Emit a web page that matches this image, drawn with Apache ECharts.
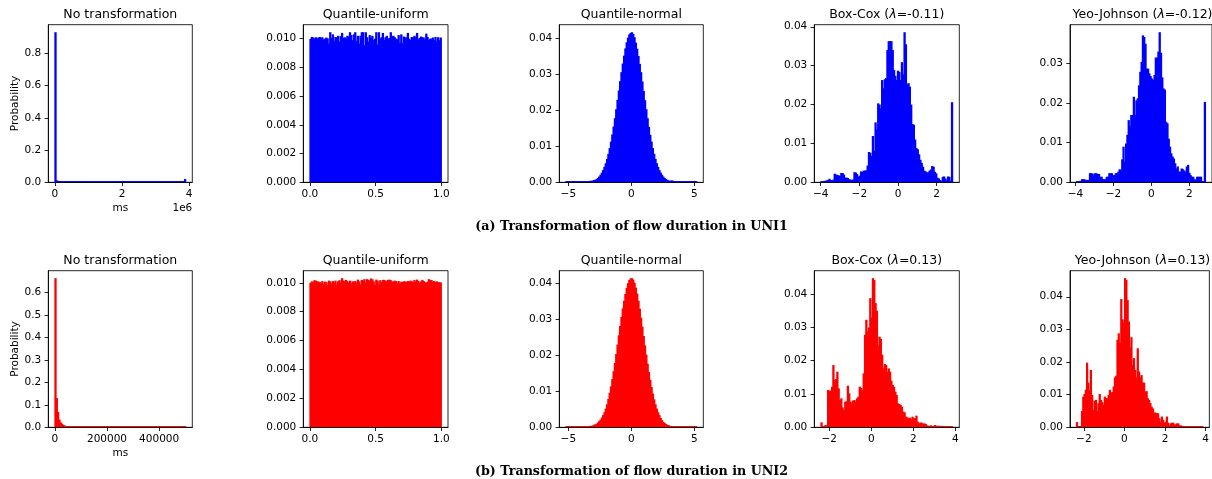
<!DOCTYPE html>
<html><head><meta charset="utf-8">
<script src="https://cdn.jsdelivr.net/npm/echarts@6/dist/echarts.min.js"></script>
<style>html,body{margin:0;padding:0;background:#fff}#c{width:1212px;height:479px}</style>
</head><body><div id="c"></div><script>
// ---------------- DATA ----------------
const COLOR_UNI1 = '#0000ff';
const COLOR_UNI2 = '#ff0000';
const titlesUni1 = ['No transformation', 'Quantile-uniform', 'Quantile-normal', 'Box-Cox ({i|λ}=-0.11)', 'Yeo-Johnson ({i|λ}=-0.12)'];
const titlesUni2 = ['No transformation', 'Quantile-uniform', 'Quantile-normal', 'Box-Cox ({i|λ}=0.13)', 'Yeo-Johnson ({i|λ}=0.13)'];
const captionUni1 = '(a) Transformation of flow duration in UNI1';
const captionUni2 = '(b) Transformation of flow duration in UNI2';

// bin ranges [first edge, last edge]; each histogram has 100 equal bins
const noTransUni1Range = [0, 3900000];
const noTransUni2Range = [0, 502000];
const uniformRange = [0, 1];
const normalRange = [-5.199, 5.199];
const boxCoxUni1Range = [-3.99, 2.83];
const yeoJohnsonUni1Range = [-3.95, 2.85];
const boxCoxUni2Range = [-2.40, 3.87];
const yeoJohnsonUni2Range = [-2.37, 3.87];

const noTransUni1 = [
 0.932,0.012,0.009,0.006,0.004,0.003,0.002,0.0015,0.0012,0.001,
 0.0008,0.0007,0.0006,0.0005,0.0005,0.0004,0.0004,0.0003,0.0003,0.0003,
 0.0003,0.0002,0.0002,0.0002,0.0002,0.0002,0.0002,0.0002,0.0002,0.0002,
 0.0002,0.0002,0.0001,0.0001,0.0002,0.0001,0.0001,0.0001,0.0001,0.0001,
 0.0001,0.0001,0.0001,0.0001,0.0001,0.0001,0.0001,0.0001,0.0001,0.0001,
 0.0001,0.0001,0.0001,0.0001,0.0001,0.0001,0.0001,0.0001,0.0001,0.0001,
 0.0001,0.0001,0.0001,0.0001,0.0001,0.0001,0.0001,0.0001,0.0001,0.0001,
 0.0001,0.0001,0.0001,0.0001,0.0001,0.0001,0.0001,0.0001,0.0001,0.0001,
 0.0001,0.0001,0.0001,0.0001,0.0001,0.0001,0.0001,0.0001,0.0001,0.0001,
 0.0001,0.0001,0.0001,0.0001,0.0001,0.0001,0.0001,0.0002,0.0003,0.020];
const noTransUni2 = [
 0.663,0.130,0.068,0.034,0.022,0.016,0.011,0.008,0.006,0.005,
 0.004,0.0035,0.003,0.0025,0.002,0.0018,0.0015,0.0013,0.0012,0.001,
 0.0009,0.0008,0.0007,0.0007,0.0006,0.0006,0.0005,0.0005,0.0004,0.0004,
 0.0004,0.0003,0.0003,0.0003,0.0003,0.0003,0.0003,0.0002,0.0002,0.0002,
 0.0002,0.0002,0.0002,0.0002,0.0002,0.0002,0.0002,0.0002,0.0002,0.0002,
 0.0002,0.0002,0.0002,0.0002,0.0002,0.0002,0.0001,0.0001,0.0001,0.0001,
 0.0001,0.0001,0.0001,0.0001,0.0001,0.0001,0.0001,0.0001,0.0001,0.0001,
 0.0001,0.0001,0.0001,0.0001,0.0001,0.0001,0.0001,0.0001,0.0001,0.0001,
 0.0001,0.0001,0.0001,0.0001,0.0001,0.0001,0.0001,0.0001,0.0001,0.0001,
 0.0001,0.0001,0.0001,0.0001,0.0001,0.0001,0.0001,0.0001,0.0001,0.0001];
const uniformUni1 = [
 0.00998,0.01012,0.01008,0.01002,0.01010,0.01000,0.01008,0.01012,0.01005,0.01010,
 0.00995,0.01000,0.01008,0.01002,0.00965,0.01045,0.01005,0.01030,0.00985,0.01012,
 0.01010,0.01020,0.00980,0.01018,0.01040,0.01005,0.01010,0.01000,0.01020,0.01015,
 0.01045,0.01025,0.00990,0.01030,0.01045,0.00985,0.01020,0.00965,0.01020,0.01045,
 0.01045,0.00955,0.01045,0.01010,0.00980,0.01025,0.01005,0.01020,0.00990,0.01000,
 0.01045,0.00960,0.01045,0.01000,0.01010,0.01040,0.00990,0.01010,0.01020,0.01000,
 0.01005,0.01045,0.01015,0.01020,0.01010,0.01000,0.00995,0.01025,0.00970,0.01030,
 0.00970,0.01015,0.01008,0.01010,0.01040,0.01000,0.00990,0.01012,0.01008,0.01020,
 0.01010,0.01040,0.00995,0.01005,0.01015,0.01010,0.01008,0.00995,0.01035,0.01012,
 0.00990,0.01000,0.01000,0.01008,0.00990,0.01012,0.00985,0.01010,0.00990,0.01008];
const uniformUni2 = [
 0.01000,0.01010,0.01005,0.01018,0.01015,0.01008,0.01010,0.01005,0.01000,0.01012,
 0.00990,0.01008,0.01005,0.00985,0.01015,0.01010,0.00995,0.01012,0.01000,0.01015,
 0.00985,0.01010,0.01018,0.01000,0.01032,0.01015,0.01010,0.01020,0.01012,0.01000,
 0.01015,0.00995,0.01010,0.01008,0.01012,0.01000,0.01022,0.01010,0.00990,0.01020,
 0.01015,0.01025,0.01000,0.01025,0.01020,0.01015,0.01030,0.01025,0.01010,0.00985,
 0.01022,0.01015,0.00990,0.01018,0.01005,0.01020,0.01020,0.01015,0.01010,0.01020,
 0.01022,0.01018,0.01008,0.01010,0.01015,0.01012,0.01000,0.01012,0.00992,0.01008,
 0.01005,0.01010,0.01010,0.01005,0.01012,0.01008,0.01015,0.01010,0.01005,0.01020,
 0.01008,0.01022,0.01012,0.01000,0.01010,0.01020,0.01012,0.01005,0.01000,0.01008,
 0.01025,0.01018,0.01020,0.01008,0.01012,0.01005,0.01010,0.01002,0.01005,0.01002];
const normalUni1 = [
 0,0,0,0,0,0,0,0,0,0,
 0,0,0,0,0.00002,0.00003,0.00005,0.0003,0.0004,0.0004,
 0.0005,0.0006,0.0007,0.0009,0.0012,0.0016,0.0021,0.0027,0.0034,0.0043,
 0.0053,0.0065,0.0079,0.0095,0.0113,0.0133,0.0155,0.0178,0.0203,0.0229,
 0.0255,0.0281,0.0306,0.0330,0.0352,0.0372,0.0389,0.0402,0.0411,0.0415,
 0.0417,0.0412,0.0403,0.0388,0.0371,0.0351,0.0329,0.0306,0.0280,0.0254,
 0.0228,0.0203,0.0178,0.0154,0.0132,0.0113,0.0095,0.0079,0.0065,0.0053,
 0.0043,0.0034,0.0027,0.0021,0.0016,0.0012,0.0009,0.0007,0.0005,0.0004,
 0.0005,0.0005,0.0002,0.0001,0.00005,0.0002,0.0002,0.00003,0,0,
 0,0,0,0,0,0,0,0,0,0];
const normalUni2 = [
 0,0,0,0,0,0,0,0,0,0,
 0,0,0,0,0,0,0.00003,0.0002,0.0004,0.0004,
 0.0005,0.0007,0.0008,0.0010,0.0013,0.0017,0.0021,0.0027,0.0034,0.0042,
 0.0052,0.0064,0.0079,0.0096,0.0114,0.0134,0.0156,0.0179,0.0204,0.0230,
 0.0256,0.0282,0.0307,0.0331,0.0352,0.0371,0.0388,0.0401,0.0410,0.0414,
 0.0415,0.0411,0.0402,0.0389,0.0372,0.0352,0.0330,0.0305,0.0280,0.0254,
 0.0228,0.0202,0.0177,0.0154,0.0132,0.0112,0.0094,0.0078,0.0064,0.0052,
 0.0042,0.0034,0.0026,0.0020,0.0015,0.0012,0.0009,0.0007,0.0006,0.0004,
 0.0003,0.0002,0.0001,0.00005,0.00003,0,0,0,0,0,
 0,0,0,0,0,0,0,0,0,0];
const boxCoxUni1 = [
 0.0002,0.0003,0.0003,0.0004,0.0005,0.0006,0.0009,0.0006,0.0005,0.0007,
 0.0022,0.0020,0.0019,0.0018,0.0016,0.0024,0.0024,0.0020,0.0012,0.0012,
 0.0011,0.0008,0.0007,0.0006,0.0007,0.0026,0.0025,0.0021,0.0014,0.0017,
 0.0028,0.0027,0.0030,0.0030,0.0031,0.0043,0.0078,0.0076,0.0068,0.0119,
 0.0081,0.0154,0.0136,0.0203,0.0200,0.0190,0.0263,0.0242,0.0265,0.0268,
 0.0340,0.0363,0.0363,0.0363,0.0340,0.0289,0.0274,0.0263,0.0287,0.0284,
 0.0263,0.0309,0.0278,0.0386,0.0355,0.0252,0.0255,0.0246,0.0200,0.0150,
 0.0148,0.0110,0.0088,0.0085,0.0072,0.0058,0.0050,0.0040,0.0030,0.0028,
 0.0025,0.0026,0.0030,0.0033,0.0042,0.0040,0.0027,0.0023,0.0012,0.0010,
 0.0006,0.0003,0.0014,0.0015,0.0010,0.0005,0.0015,0.0014,0.0003,0.0206];
const yeoJohnsonUni1 = [
 0.0002,0.0002,0.0002,0.0004,0.0008,0.0008,0.0007,0.0006,0.0006,0.0006,
 0.0023,0.0023,0.0022,0.0017,0.0023,0.0023,0.0021,0.0021,0.0014,0.0014,
 0.0008,0.0008,0.0008,0.0014,0.0014,0.0023,0.0023,0.0023,0.0018,0.0018,
 0.0023,0.0023,0.0027,0.0033,0.0030,0.0058,0.0090,0.0052,0.0098,0.0120,
 0.0157,0.0142,0.0170,0.0170,0.0216,0.0170,0.0207,0.0212,0.0245,0.0279,
 0.0304,0.0371,0.0367,0.0350,0.0287,0.0287,0.0275,0.0268,0.0262,0.0258,
 0.0271,0.0315,0.0315,0.0330,0.0379,0.0327,0.0265,0.0237,0.0234,0.0153,
 0.0149,0.0110,0.0090,0.0073,0.0065,0.0060,0.0048,0.0035,0.0040,0.0027,
 0.0027,0.0035,0.0033,0.0030,0.0027,0.0040,0.0044,0.0024,0.0018,0.0014,
 0.0014,0.0008,0.0006,0.0014,0.0014,0.0014,0.0014,0.0002,0.0002,0.0203];
const boxCoxUni2 = [
 0.0015,0.0003,0.0003,0.0007,0.0005,0.0112,0.0110,0.0110,0.0122,0.0187,
 0.0142,0.0145,0.0167,0.0117,0.0082,0.0087,0.0060,0.0052,0.0077,0.0078,
 0.0125,0.0102,0.0077,0.0072,0.0080,0.0082,0.0077,0.0087,0.0092,0.0122,
 0.0118,0.0112,0.0162,0.0278,0.0323,0.0288,0.0300,0.0388,0.0330,0.0448,
 0.0443,0.0373,0.0350,0.0245,0.0272,0.0266,0.0218,0.0177,0.0190,0.0187,
 0.0167,0.0177,0.0167,0.0140,0.0127,0.0122,0.0107,0.0097,0.0072,0.0070,
 0.0067,0.0062,0.0047,0.0045,0.0032,0.0030,0.0027,0.0029,0.0025,0.0032,
 0.0027,0.0027,0.0035,0.0017,0.0012,0.0014,0.0014,0.0010,0.0012,0.0010,
 0.0006,0.0004,0.0005,0.0006,0.0003,0.0003,0.0007,0.0005,0.0002,0.0005,
 0.0003,0.0004,0.0002,0.0002,0.0001,0.0001,0.0001,0.0001,0.0001,0.0001];
const yeoJohnsonUni2 = [
 0.0016,0.0004,0.0004,0.0004,0.0050,0.0094,0.0102,0.0115,0.0198,0.0137,
 0.0113,0.0176,0.0099,0.0053,0.0081,0.0084,0.0050,0.0074,0.0102,0.0084,
 0.0077,0.0069,0.0094,0.0089,0.0089,0.0099,0.0115,0.0106,0.0108,0.0125,
 0.0153,0.0158,0.0268,0.0288,0.0258,0.0393,0.0331,0.0321,0.0457,0.0452,
 0.0390,0.0324,0.0245,0.0276,0.0191,0.0212,0.0176,0.0153,0.0242,0.0171,
 0.0153,0.0160,0.0137,0.0137,0.0109,0.0111,0.0089,0.0084,0.0074,0.0063,
 0.0058,0.0045,0.0045,0.0043,0.0043,0.0028,0.0017,0.0033,0.0023,0.0014,
 0.0017,0.0033,0.0014,0.0007,0.0012,0.0014,0.0014,0.0009,0.0009,0.0012,
 0.0012,0.0006,0.0006,0.0004,0.0004,0.0003,0.0003,0.0003,0.0002,0.0003,
 0.0002,0.0003,0.0001,0.0001,0.0001,0.0001,0.0001,0.0001,0.0001,0.0001];

// tick values and tick labels
const xTicksNoTrans1 = [0, 2000000, 4000000];   const xLabelsNoTrans1 = ['0', '2', '4'];
const xTicksNoTrans2 = [0, 200000, 400000];     const xLabelsNoTrans2 = ['0', '200000', '400000'];
const xTicksUniform = [0, 0.5, 1];              const xLabelsUniform = ['0.0', '0.5', '1.0'];
const xTicksNormal = [-5, 0, 5];                const xLabelsNormal = ['\u22125', '0', '5'];
const xTicksPow1 = [-4, -2, 0, 2];              const xLabelsPow1 = ['\u22124', '\u22122', '0', '2'];
const xTicksPow2 = [-2, 0, 2, 4];               const xLabelsPow2 = ['\u22122', '0', '2', '4'];
const yTicksNoTrans1 = [0, 0.2, 0.4, 0.6, 0.8]; const yLabelsNoTrans1 = ['0.0', '0.2', '0.4', '0.6', '0.8'];
const yTicksNoTrans2 = [0, 0.1, 0.2, 0.3, 0.4, 0.5, 0.6]; const yLabelsNoTrans2 = ['0.0', '0.1', '0.2', '0.3', '0.4', '0.5', '0.6'];
const yTicksUniform = [0, 0.002, 0.004, 0.006, 0.008, 0.010]; const yLabelsUniform = ['0.000', '0.002', '0.004', '0.006', '0.008', '0.010'];
const yTicks004 = [0, 0.01, 0.02, 0.03, 0.04];  const yLabels004 = ['0.00', '0.01', '0.02', '0.03', '0.04'];
const yTicks003 = [0, 0.01, 0.02, 0.03];        const yLabels003 = ['0.00', '0.01', '0.02', '0.03'];

// ---------------- LAYOUT ----------------
const FONT = 'DejaVu Sans';
const colLeft = [48.3, 303.3, 559.3, 814.3, 1070];
const colWidth = [144, 144.7, 144, 145, 145];
const rowTop = [24.7, 270.7];
const rowHeight = [157.6, 156.6];
const titleY = [15, 261];
const captionY = [226.5, 471.5];

const panels = [
 {r:0,c:0,h:noTransUni1,range:noTransUni1Range,xt:xTicksNoTrans1,xl:xLabelsNoTrans1,yt:yTicksNoTrans1,yl:yLabelsNoTrans1,t:titlesUni1[0],col:COLOR_UNI1,first:true},
 {r:0,c:1,h:uniformUni1,range:uniformRange,xt:xTicksUniform,xl:xLabelsUniform,yt:yTicksUniform,yl:yLabelsUniform,t:titlesUni1[1],col:COLOR_UNI1},
 {r:0,c:2,h:normalUni1,range:normalRange,xt:xTicksNormal,xl:xLabelsNormal,yt:yTicks004,yl:yLabels004,t:titlesUni1[2],col:COLOR_UNI1},
 {r:0,c:3,h:boxCoxUni1,range:boxCoxUni1Range,xt:xTicksPow1,xl:xLabelsPow1,yt:yTicks004,yl:yLabels004,t:titlesUni1[3],col:COLOR_UNI1},
 {r:0,c:4,h:yeoJohnsonUni1,range:yeoJohnsonUni1Range,xt:xTicksPow1,xl:xLabelsPow1,yt:yTicks003,yl:yLabels003,t:titlesUni1[4],col:COLOR_UNI1},
 {r:1,c:0,h:noTransUni2,range:noTransUni2Range,xt:xTicksNoTrans2,xl:xLabelsNoTrans2,yt:yTicksNoTrans2,yl:yLabelsNoTrans2,t:titlesUni2[0],col:COLOR_UNI2,first:true},
 {r:1,c:1,h:uniformUni2,range:uniformRange,xt:xTicksUniform,xl:xLabelsUniform,yt:yTicksUniform,yl:yLabelsUniform,t:titlesUni2[1],col:COLOR_UNI2},
 {r:1,c:2,h:normalUni2,range:normalRange,xt:xTicksNormal,xl:xLabelsNormal,yt:yTicks004,yl:yLabels004,t:titlesUni2[2],col:COLOR_UNI2},
 {r:1,c:3,h:boxCoxUni2,range:boxCoxUni2Range,xt:xTicksPow2,xl:xLabelsPow2,yt:yTicks004,yl:yLabels004,t:titlesUni2[3],col:COLOR_UNI2},
 {r:1,c:4,h:yeoJohnsonUni2,range:yeoJohnsonUni2Range,xt:xTicksPow2,xl:xLabelsPow2,yt:yTicks004,yl:yLabels004,t:titlesUni2[4],col:COLOR_UNI2}
];

function labelFor(ticks, labels) {
  return function (v) {
    for (let j = 0; j < ticks.length; j++) {
      if (Math.abs(ticks[j] - v) <= 1e-9 * Math.max(1, Math.abs(ticks[j]))) return labels[j];
    }
    return '';
  };
}
function histItem(color) {
  return function (params, api) {
    const x0 = api.value(0), x1 = api.value(1), h = api.value(2);
    const a = api.coord([x0, h]);
    const b = api.coord([x1, 0]);
    let top = a[1];
    let height = b[1] - a[1];
    if (height < 1.2) { height = 1.2; top = b[1] - 1.2; }
    // 0.5px overlap on each side so neighbouring bins leave no anti-aliasing seams
    return { type: 'rect', shape: { x: a[0] - 0.5, y: top, width: b[0] - a[0] + 1, height: height }, style: { fill: color } };
  };
}

const grids = [], xAxes = [], yAxes = [], series = [], graphics = [];
const tickStyle = { show: true, length: 3.7, lineStyle: { color: '#000', width: 0.85 } };
panels.forEach((p, k) => {
  grids.push({ left: colLeft[p.c], top: rowTop[p.r], width: colWidth[p.c], height: rowHeight[p.r],
    show: true, borderColor: '#000', borderWidth: 0.85, backgroundColor: 'transparent' });
  const span = p.range[1] - p.range[0];
  const ymax = Math.max.apply(null, p.h) * 1.05;
  const xa = { type: 'value', gridIndex: k, z: 10,
    min: p.range[0] - 0.05 * span, max: p.range[1] + 0.05 * span,
    splitLine: { show: false },
    axisLine: { show: true, onZero: false, lineStyle: { color: '#000', width: 0.85 } },
    axisTick: Object.assign({ customValues: p.xt }, tickStyle),
    axisLabel: { customValues: p.xt, formatter: labelFor(p.xt, p.xl), fontSize: 10.5, fontFamily: FONT, color: '#000', margin: 6 } };
  const ya = { type: 'value', gridIndex: k, z: 10, min: 0, max: ymax,
    splitLine: { show: false },
    axisLine: { show: true, onZero: false, lineStyle: { color: '#000', width: 0.85 } },
    axisTick: Object.assign({ customValues: p.yt }, tickStyle),
    axisLabel: { customValues: p.yt, formatter: labelFor(p.yt, p.yl), fontSize: 10.5, fontFamily: FONT, color: '#000', margin: 7 } };
  if (p.first) {
    Object.assign(xa, { name: 'ms', nameLocation: 'middle', nameGap: 20, nameTextStyle: { fontSize: 10.5, fontFamily: FONT, color: '#000' } });
    Object.assign(ya, { name: 'Probability', nameLocation: 'middle', nameRotate: 90, nameGap: 28, nameTextStyle: { fontSize: 10.5, fontFamily: FONT, color: '#000' } });
  }
  xAxes.push(xa); yAxes.push(ya);
  const w = span / p.h.length;
  series.push({ type: 'custom', xAxisIndex: k, yAxisIndex: k, renderItem: histItem(p.col),
    encode: { x: [0, 1], y: 2 }, silent: true,
    data: p.h.map((v, i) => [p.range[0] + i * w, p.range[0] + (i + 1) * w, v]) });
  graphics.push({ type: 'text', x: colLeft[p.c] + colWidth[p.c] / 2, y: titleY[p.r],
    style: { text: p.t, textAlign: 'center', textVerticalAlign: 'middle', fill: '#000',
      font: '12.5px "' + FONT + '"',
      rich: { i: { fontStyle: 'italic', fontSize: 12.5, fontFamily: FONT, fill: '#000' } } } });
});
graphics.push({ type: 'text', x: colLeft[0] + colWidth[0], y: 208.5,
  style: { text: '1e6', textAlign: 'right', textVerticalAlign: 'middle', fill: '#000', font: '10.5px "' + FONT + '"' } });
graphics.push({ type: 'text', x: 631.5, y: captionY[0],
  style: { text: captionUni1, textAlign: 'center', textVerticalAlign: 'middle', fill: '#000', font: 'bold 12.7px "DejaVu Serif"' } });
graphics.push({ type: 'text', x: 631.5, y: captionY[1],
  style: { text: captionUni2, textAlign: 'center', textVerticalAlign: 'middle', fill: '#000', font: 'bold 12.7px "DejaVu Serif"' } });

const chart = echarts.init(document.getElementById('c'), null, { renderer: 'canvas' });
chart.setOption({ animation: false, backgroundColor: '#fff', grid: grids, xAxis: xAxes, yAxis: yAxes, series: series, graphic: graphics });
</script></body></html>
